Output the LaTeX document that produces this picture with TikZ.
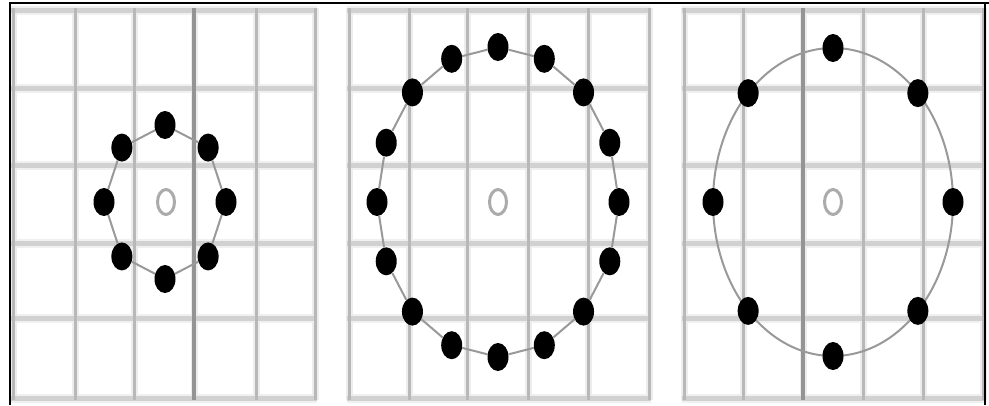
\documentclass[tikz,border=0pt]{standalone}
\usetikzlibrary{shapes.geometric}
\begin{document}
\begin{tikzpicture}[x=1pt,y=-1pt,
  hhalo/.style={line width=9pt, draw=black!6},
  hline/.style={line width=5pt, draw=black!18},
  vhalo/.style={line width=7pt, draw=black!7},
  vline/.style={line width=3pt, draw=black!28},
  vdark/.style={line width=3.2pt, draw=black!42},
  dotnode/.style={ellipse, fill=black, minimum width=21pt, minimum height=28pt, inner sep=0pt},
  ring/.style={ellipse, draw=black!33, line width=3pt, minimum width=17pt, minimum height=25pt, inner sep=0pt},
  link/.style={draw=black!40, line width=2pt},
  frame/.style={draw=black, line width=1.6pt}]
\useasboundingbox (0,0) rectangle (989,405);
\fill[white] (0,0) rectangle (989,405);
% grids: horizontal lines
\foreach \l/\r in {11/317, 347/651, 682/985} {
  \foreach \y in {10,88,165,243,318,398} {
    \draw[hhalo] (\l,\y) -- (\r,\y);
  }
}
\foreach \x in {13,75,134,194,256,315, 349,409,467,528,588,649, 684,743,803,863,923,983} {
  \draw[vhalo] (\x,8) -- (\x,400);
}
\foreach \l/\r in {11/317, 347/651, 682/985} {
  \foreach \y in {10,88,165,243,318,398} {
    \draw[hline] (\l,\y) -- (\r,\y);
  }
}
\foreach \x in {13,75,134,256,315, 349,409,467,528,588,649, 684,743,863,923,983} {
  \draw[vline] (\x,8) -- (\x,400);
}
\foreach \x in {194,803} {
  \draw[vdark] (\x,8) -- (\x,400);
}
% frame
\draw[frame] (10,405) -- (10,3) -- (989,3);
\draw[frame] (985,3) -- (985,405);
% panel 1
\node[ring] (c1) at (166,202) {};
\foreach \i in {0,...,7} {
  \node[dotnode] (a\i) at ({165+61*cos(\i*45)},{202-77*sin(\i*45)}) {};
}
\foreach \i in {0,...,7} {
  \pgfmathtruncatemacro{\j}{mod(\i+1,8)}
  \draw[link] (a\i) -- (a\j);
}
% panel 2
\node[ring] (c2) at (498,202) {};
\foreach \i in {0,...,15} {
  \node[dotnode] (b\i) at ({498+121*cos(\i*22.5)},{202-155*sin(\i*22.5)}) {};
}
\foreach \i in {0,...,15} {
  \pgfmathtruncatemacro{\j}{mod(\i+1,16)}
  \draw[link] (b\i) -- (b\j);
}
% panel 3
\node[ring] (c3) at (833,202) {};
\draw[link] (833,202) ellipse [x radius=120pt, y radius=154pt];
\foreach \i in {0,...,7} {
  \node[dotnode] (d\i) at ({833+120*cos(\i*45)},{202-154*sin(\i*45)}) {};
}
\end{tikzpicture}
\end{document}
